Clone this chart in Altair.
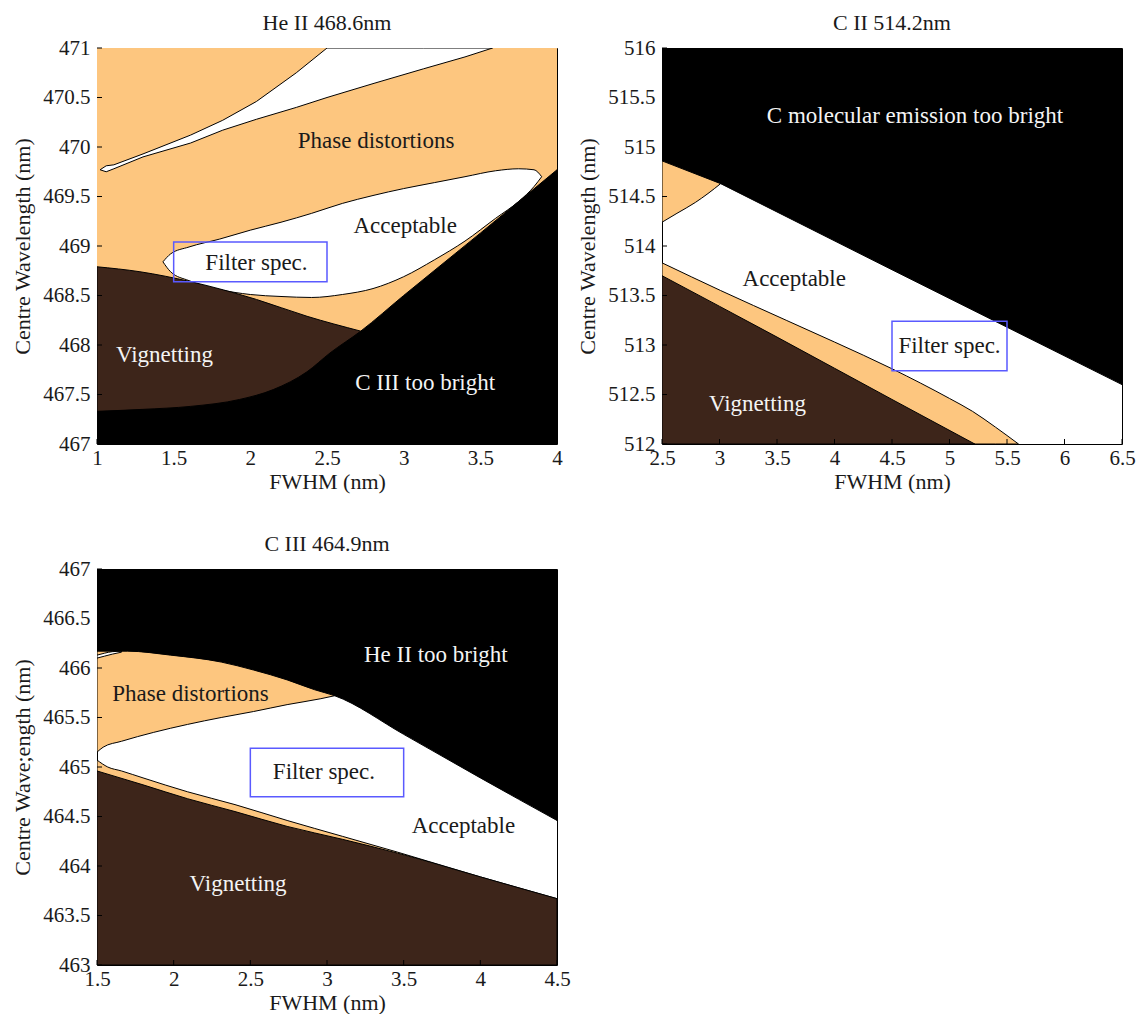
import altair as alt
import pandas as pd

ORANGE = "#fdc67f"
BROWN = "#3d251a"
BLACK = "#000000"
BLUE = "#5a5aff"
INK = "#1a1a1a"
PALE = "#f4f4f4"
FONT = "Liberation Serif"
W, H = 460, 396

# ---------------- He II 468.6 nm ----------------
he_xdom, he_ydom = [1, 4], [467, 471]
he_xticks = [1, 1.5, 2, 2.5, 3, 3.5, 4]
he_yticks = [467, 467.5, 468, 468.5, 469, 469.5, 470, 470.5, 471]
# thin acceptable sliver in the upper left
he_sliver_x = [1.02, 1.06, 1.11, 1.3, 1.61, 1.82, 2.04, 2.3, 2.5, 2.8, 3.13, 3.4, 3.58]
he_sliver_lo = [469.77, 469.75, 469.78, 469.90, 470.04, 470.17, 470.28, 470.40, 470.50, 470.64, 470.79, 470.91, 471.0]
he_sliver_hi = [469.77, 469.81, 469.82, 469.93, 470.12, 470.27, 470.46, 470.75, 471.0, 471.0, 471.0, 471.0, 471.0]
# closed acceptable loop
he_loop_x = [1.43, 1.48, 1.6, 1.8, 2.0, 2.2, 2.4, 2.6, 2.8, 3.0, 3.2, 3.4, 3.6, 3.75, 3.85, 3.90]
he_loop_lo = [468.84, 468.74, 468.65, 468.56, 468.51, 468.49, 468.48, 468.51, 468.57, 468.69,
              468.86, 469.05, 469.28, 469.45, 469.60, 469.70]
he_loop_hi = [468.84, 468.92, 468.99, 469.07, 469.16, 469.24, 469.33, 469.43, 469.51, 469.58,
              469.64, 469.70, 469.76, 469.78, 469.77, 469.70]
# vignetting limit
he_vig_x = [1.0, 1.28, 1.61, 2.04, 2.37, 2.72]
he_vig_hi = [468.79, 468.74, 468.64, 468.46, 468.29, 468.14]
# C III contamination limit
he_c3_x = [1.0, 1.3, 1.61, 1.93, 2.15, 2.37, 2.52, 2.72, 3.0, 3.5, 4.0]
he_c3_hi = [467.33, 467.35, 467.38, 467.45, 467.55, 467.73, 467.92, 468.14, 468.50, 469.13, 469.77]
he_box = (1.5, 2.5, 468.64, 469.04)
he_labels = ["Phase distortions", "Acceptable", "Filter spec.", "Vignetting", "C III too bright"]
he_label_x = [2.82, 3.01, 2.04, 1.44, 3.14]
he_label_y = [470.06, 469.20, 468.83, 467.90, 467.62]
he_label_c = [INK, INK, INK, PALE, PALE]

# ---------------- C II 514.2 nm ----------------
cii_xdom, cii_ydom = [2.5, 6.5], [512, 516]
cii_xticks = [2.5, 3, 3.5, 4, 4.5, 5, 5.5, 6, 6.5]
cii_yticks = [512, 512.5, 513, 513.5, 514, 514.5, 515, 515.5, 516]
cii_black_x = [2.5, 3.01, 4.5, 6.5]
cii_black_lo = [514.86, 514.63, 513.76, 512.60]
cii_wedge_x = [2.5, 2.63, 2.79, 2.9, 3.01]
cii_wedge_lo = [514.24, 514.33, 514.44, 514.53, 514.63]
cii_strip_x = [2.5, 3.01, 3.58, 4.0, 4.5, 5.0, 5.2, 5.4, 5.6]
cii_strip_hi = [513.83, 513.55, 513.25, 513.03, 512.76, 512.46, 512.33, 512.17, 512.0]
cii_vig_x = [2.5, 3.5, 4.5, 5.22]
cii_vig_hi = [513.70, 513.08, 512.45, 512.0]
cii_box = (4.5, 5.5, 512.74, 513.24)
cii_labels = ["C molecular emission too bright", "Acceptable", "Filter spec.", "Vignetting"]
cii_label_x = [4.70, 3.65, 5.0, 3.33]
cii_label_y = [515.31, 513.67, 512.99, 512.40]
cii_label_c = [PALE, INK, INK, PALE]

# ---------------- C III 464.9 nm ----------------
c3_xdom, c3_ydom = [1.5, 4.5], [463, 467]
c3_xticks = [1.5, 2, 2.5, 3, 3.5, 4, 4.5]
c3_yticks = [463, 463.5, 464, 464.5, 465, 465.5, 466, 466.5, 467]
c3_black_x = [1.5, 1.70, 1.98, 2.31, 2.52, 2.74, 2.92, 3.05, 3.5, 4.0, 4.5]
c3_black_lo = [466.17, 466.17, 466.13, 466.06, 465.98, 465.88, 465.78, 465.72, 465.33, 464.89, 464.46]
c3_phase_x = [1.5, 1.54, 1.66, 1.87, 2.09, 2.31, 2.52, 2.74, 2.96, 3.05]
c3_phase_lo = [465.15, 465.20, 465.26, 465.35, 465.43, 465.50, 465.56, 465.63, 465.69, 465.72]
c3_wisp_x = [1.5, 1.55, 1.6, 1.66]
c3_wisp_lo = [466.10, 466.12, 466.14, 466.16]
c3_wisp_hi = [466.13, 466.15, 466.165, 466.17]
c3_strip_x = [1.5, 1.57, 1.66, 1.8, 2.09, 2.4, 2.74, 3.1, 3.46, 4.0, 4.5]
c3_strip_hi = [465.07, 465.00, 464.96, 464.89, 464.75, 464.62, 464.46, 464.30, 464.14, 463.89, 463.67]
c3_vig_x = [1.5, 1.8, 2.09, 2.4, 2.74, 3.1, 3.46, 4.0, 4.5]
c3_vig_hi = [464.96, 464.82, 464.68, 464.55, 464.40, 464.27, 464.13, 463.89, 463.67]
c3_box = (2.5, 3.5, 464.70, 465.19)
c3_labels = ["He II too bright", "Phase distortions", "Filter spec.", "Acceptable", "Vignetting"]
c3_label_x = [3.71, 2.11, 2.98, 3.89, 2.42]
c3_label_y = [466.13, 465.74, 464.95, 464.40, 463.82]
c3_label_c = [PALE, INK, INK, INK, PALE]


def panel(title, xdom, ydom, xticks, yticks, regions, box, labels, lx, ly, lc, ytitle):
    xs = alt.Scale(domain=xdom, nice=False, zero=False)
    ys = alt.Scale(domain=ydom, nice=False, zero=False)
    # one axis definition shared by every layer so the merged axes stay intact
    xa = alt.Axis(values=xticks, format="~g", ticks=False, domain=False, grid=False,
                  labelPadding=3, titlePadding=3, labelFlush=False)
    ya = alt.Axis(values=yticks, format="~g", ticks=False, domain=False, grid=False,
                  labelPadding=7, titlePadding=8, labelFlush=False)

    def X(f):
        return alt.X(f, scale=xs, axis=xa, title="FWHM (nm)")

    def Y(f):
        return alt.Y(f, scale=ys, axis=ya, title=ytitle)

    layers = []
    for r in regions:
        xv, lo, hi, fill, outline, interp = r
        props = dict(color=fill, clip=True, opacity=1, interpolate=interp)
        if outline:
            props.update(stroke=BLACK, strokeWidth=1)
        df = pd.DataFrame({"x": xv, "lo": lo, "hi": hi})
        layers.append(alt.Chart(df).mark_area(**props).encode(x=X("x:Q"), y=Y("lo:Q"), y2="hi:Q"))

    bx = pd.DataFrame({"x1": [box[0]], "x2": [box[1]], "y1": [box[2]], "y2": [box[3]]})
    layers.append(
        alt.Chart(bx).mark_rect(fill=None, stroke=BLUE, strokeWidth=1.5).encode(
            x=X("x1:Q"), x2="x2:Q", y=Y("y1:Q"), y2="y2:Q"
        )
    )

    tx = pd.DataFrame({"t": labels, "x": lx, "y": ly, "c": lc})
    layers.append(
        alt.Chart(tx).mark_text(font=FONT, fontSize=23, align="center", baseline="middle").encode(
            x=X("x:Q"), y=Y("y:Q"), text="t:N", color=alt.Color("c:N", scale=None)
        )
    )

    # inward tick marks on the bottom and left edges
    layers.append(
        alt.Chart(pd.DataFrame({"v": xticks})).mark_rule(color=BLACK, strokeWidth=1).encode(
            x=X("v:Q"), y=alt.value(H), y2=alt.value(H - 5)
        )
    )
    layers.append(
        alt.Chart(pd.DataFrame({"v": yticks})).mark_rule(color=BLACK, strokeWidth=1).encode(
            y=Y("v:Q"), x=alt.value(0), x2=alt.value(5)
        )
    )

    return alt.layer(*layers).properties(
        width=W, height=H,
        title=alt.TitleParams(title, font=FONT, fontSize=22, fontWeight="normal",
                              color=INK, offset=2),
    )


M, L = "monotone", "linear"
he_regions = [
    (he_xdom, [467, 467], [471, 471], ORANGE, False, L),
    (he_sliver_x, he_sliver_lo, he_sliver_hi, "white", True, L),
    (he_loop_x, he_loop_lo, he_loop_hi, "white", True, M),
    (he_vig_x, [467] * len(he_vig_x), he_vig_hi, BROWN, True, M),
    (he_c3_x, [467] * len(he_c3_x), he_c3_hi, BLACK, True, M),
]
cii_regions = [
    (cii_wedge_x, cii_wedge_lo, [516] * len(cii_wedge_x), ORANGE, True, M),
    (cii_black_x, cii_black_lo, [516] * len(cii_black_x), BLACK, True, L),
    (cii_strip_x, [512] * len(cii_strip_x), cii_strip_hi, ORANGE, True, M),
    (cii_vig_x, [512] * len(cii_vig_x), cii_vig_hi, BROWN, True, M),
]
c3_regions = [
    (c3_phase_x, c3_phase_lo, [467] * len(c3_phase_x), ORANGE, True, M),
    (c3_wisp_x, c3_wisp_lo, c3_wisp_hi, "white", True, M),
    (c3_black_x, c3_black_lo, [467] * len(c3_black_x), BLACK, True, M),
    (c3_strip_x, [463] * len(c3_strip_x), c3_strip_hi, ORANGE, True, M),
    (c3_vig_x, [463] * len(c3_vig_x), c3_vig_hi, BROWN, True, M),
]

p1 = panel("He II 468.6nm", he_xdom, he_ydom, he_xticks, he_yticks, he_regions, he_box,
           he_labels, he_label_x, he_label_y, he_label_c, "Centre Wavelength (nm)")
p2 = panel("C II 514.2nm", cii_xdom, cii_ydom, cii_xticks, cii_yticks, cii_regions, cii_box,
           cii_labels, cii_label_x, cii_label_y, cii_label_c, "Centre Wavelength (nm)")
p3 = panel("C III 464.9nm", c3_xdom, c3_ydom, c3_xticks, c3_yticks, c3_regions, c3_box,
           c3_labels, c3_label_x, c3_label_y, c3_label_c, "Centre Wave;ength (nm)")

chart = alt.vconcat(
    alt.hconcat(p1, p2, spacing=13),
    p3,
    spacing=39,
).configure_view(
    stroke=BLACK, strokeWidth=1
).configure_axis(
    labelFont=FONT, labelFontSize=21, labelColor=INK,
    titleFont=FONT, titleFontSize=22, titleFontWeight="normal", titleColor=INK,
).properties(
    padding={"left": 11, "top": 11, "right": 5, "bottom": 2}, background="white"
)

chart.save("out.html", embed_options={"renderer": "svg", "actions": False})
